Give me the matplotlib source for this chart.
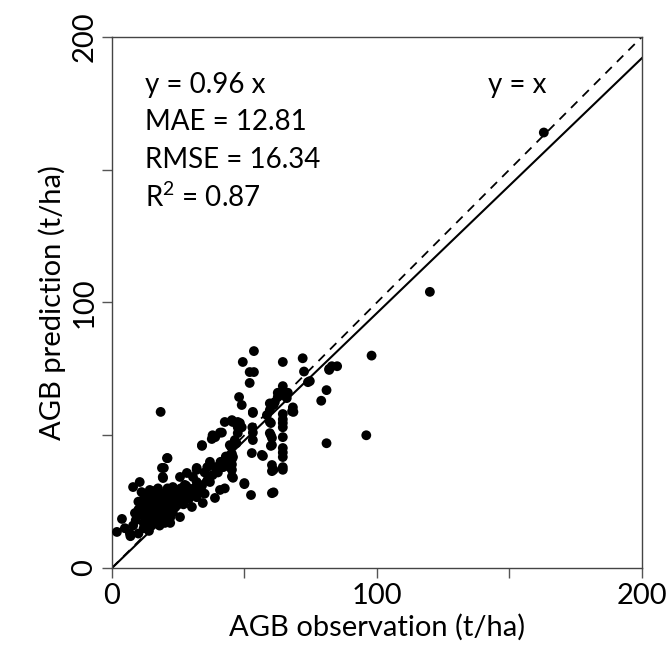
import matplotlib
matplotlib.use("Agg")
import matplotlib.pyplot as plt
import numpy as np

plt.rcParams['font.family'] = ['Lato', 'DejaVu Sans']
plt.rcParams['mathtext.fontset'] = 'custom'
plt.rcParams['mathtext.rm'] = 'Lato'
plt.rcParams['mathtext.it'] = 'Lato'
plt.rcParams['mathtext.default'] = 'regular'

obs_hi = [163, 120, 98, 96, 81, 81, 79, 85, 82, 83, 82, 74, 72, 72.5, 74.7, 64.5, 68, 68.3, 68.5]
pred_hi = [164, 104, 80, 50, 47, 67, 63, 76, 75, 76, 74.6, 70, 79, 74, 70.4, 77.6, 59, 60.5, 58.8]

obs_60 = [64.5, 64.5, 64.5, 64.5, 64.5, 64.5, 64.5, 64.5, 64.5, 64.5, 64.5, 64.5,
          66, 66.4, 62.6, 62.6, 61.5, 61, 59.6, 59.6, 58.5, 59.6, 60, 59.6, 60.4,
          60.4, 60, 60, 60.4, 60.4, 61, 60.4, 61]
pred_60 = [68.5, 65.2, 58, 56, 54.6, 53, 49.3, 45.2, 43.5, 41.8, 38, 37,
           64, 66, 64.4, 66, 62.5, 61.4, 62, 59.5, 57.6, 55, 54.6, 50.8, 49,
           46.3, 50, 46, 38.8, 36.5, 37, 28.2, 28.5]

obs_mid = [53.6, 49.4, 52, 53.6, 52, 48, 49, 53.2, 53.2, 45.3, 47.5, 49, 42.6, 45.6,
           48.3, 53, 41.5, 39, 37.7, 34, 47.5, 47.5, 46.4, 44.5, 53.2, 53.2, 52.8,
           57, 56.6, 45, 47, 45.7, 43.4, 44.5, 45.7, 45.3, 45.3, 45.3, 45.3, 45.3,
           50, 50, 52.5, 42.6, 40.8, 38.9, 37, 35, 32, 32, 32, 30.2, 34.3, 38, 40.8, 34]
pred_mid = [81.7, 77.6, 73.8, 73.8, 69.7, 64.4, 61.4, 58.8, 58.4, 55.7, 55, 53, 55, 55,
            54.6, 53, 51, 49.3, 48.6, 46, 53, 50.8, 48.2, 46.3, 51, 48.2, 43.3,
            42.2, 42.6, 45.6, 47, 41.8, 40, 38, 34, 43, 41, 39, 37, 34.5,
            32, 31.6, 27.5, 30, 29.4, 26.4, 32.4, 36, 37, 32.4, 26.7, 23, 24.5, 50, 51, 46.3]

obs_lo = [18.4, 20.8, 19.6, 19.2, 18.9, 21, 19.3, 17.4, 1.9, 3.8, 4.9, 6.8, 8, 8.7, 8,
          10.5, 11.2, 14.3, 25.7, 28.3, 30.6, 32, 27.5, 24.5, 23, 25.7,
          9, 10, 10, 11, 11, 12, 12, 12, 13, 13, 13, 14, 14, 14, 15, 15, 15, 15,
          16, 16, 16, 16, 17, 17, 17, 17, 18, 18, 18, 19, 19, 19, 19, 20, 20, 20,
          21, 21, 21, 22, 22, 22, 23, 23, 24, 24, 25, 25, 26, 26, 27, 27, 28, 28,
          29, 29, 30, 31, 33, 34, 35, 36, 38, 39, 40, 41, 42, 43, 36, 37,
          12, 14, 18, 20, 22, 7, 10]
pred_lo = [58.8, 41.4, 37.7, 34.3, 37.7, 41.4, 33.9, 30, 13.6, 18.5, 15, 13, 16, 20.7, 30.5,
           32.4, 28.6, 29.4, 34.3, 35.8, 34.3, 37.7, 31.3, 26.7, 30.5, 19.2,
           18, 22, 25, 20, 24, 17, 22, 26, 19, 23, 27, 18, 21, 25, 16, 20, 23, 27,
           18, 22, 25, 29, 17, 20, 24, 27, 19, 22, 26, 18, 21, 24, 28, 20, 23, 27,
           22, 25, 30, 19, 24, 28, 21, 26, 23, 29, 24, 28, 26, 30, 24, 28, 27, 31,
           26, 30, 28, 30, 29, 31, 28, 33, 35, 38, 36, 40, 38, 42, 38, 40,
           15, 14, 16, 17, 17, 12, 13]

obs = obs_hi + obs_60 + obs_mid + obs_lo
pred = pred_hi + pred_60 + pred_mid + pred_lo

slope = 0.96
stats = ["y = 0.96 x", "MAE = 12.81", "RMSE = 16.34", "R$^2$ = 0.87"]

fig = plt.figure(figsize=(6.7, 6.59), dpi=100)
ax = fig.add_axes([0.167, 0.138, 0.791, 0.806])

line_x = np.array([0, 200])
ax.plot(line_x, line_x, color='black', lw=1.3, ls=(0, (5, 4)))
ax.plot(line_x, slope * line_x, color='black', lw=1.5)
ax.scatter(obs, pred, s=50, color='black', edgecolors='none', zorder=3)

ax.set_xlim(0, 200)
ax.set_ylim(0, 200)
ax.set_xticks([0, 100, 200])
ax.set_yticks([0, 100, 200])
ax.set_xticks([50, 150], minor=True)
ax.set_yticks([50, 150], minor=True)
ax.tick_params(which='both', direction='out', length=7, width=1, colors='#555555',
               labelcolor='black', labelsize=21)
ax.set_yticklabels(['0', '100', '200'], rotation=90, va='center')
for s in ax.spines.values():
    s.set_color('#444444')
    s.set_linewidth(1)

ax.set_xlabel("AGB observation (t/ha)", fontsize=21, labelpad=4)
ax.set_ylabel("AGB prediction (t/ha)", fontsize=21, labelpad=4)

for i, t in enumerate(stats):
    ax.text(12.5, 182 - i * 14.2, t, fontsize=20, va='center', ha='left')
ax.text(142, 182, "y = x", fontsize=20, va='center', ha='left')

fig.savefig("out.png", dpi=100)
